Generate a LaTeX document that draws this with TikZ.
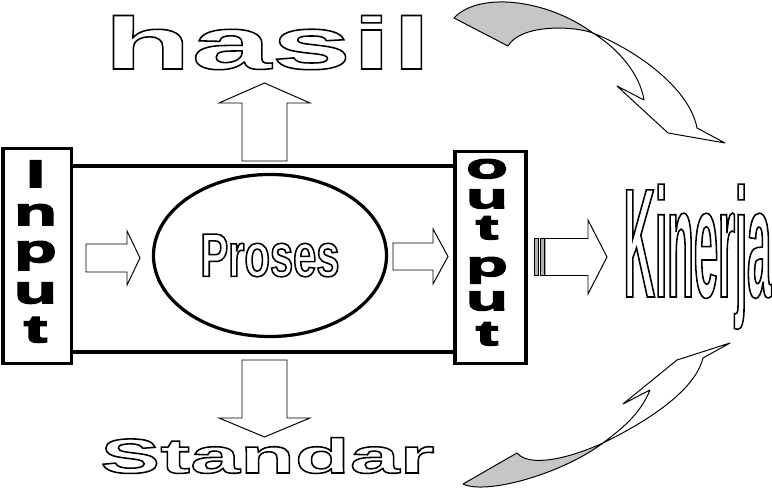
\documentclass[tikz,border=0pt]{standalone}
\usepackage{fontspec}
\usepackage{xcolor}
\usepackage{tikz}
\usetikzlibrary{shapes.geometric, positioning}

\newfontfamily\hasilfont{Liberation Sans Bold}[FakeStretch=1.95]
\newfontfamily\standarfont{Liberation Sans Bold}[FakeStretch=1.84]
\newfontfamily\prosesfont{Liberation Sans Bold}[FakeStretch=0.68]
\newfontfamily\kinerjafont{Liberation Sans Bold}[FakeStretch=0.28]
\newfontfamily\heavysans{Liberation Sans Bold}[FakeStretch=1.85, FakeBold=5]
\newfontfamily\heavywide{Liberation Sans Bold}[FakeStretch=2.0, FakeBold=5]

% hollow (outlined) lettering: stroke the glyphs, no fill
\newcommand{\hollow}[1]{\special{pdf:literal direct 1 Tr 1.1 w}#1\special{pdf:literal direct 0 Tr}}

\begin{document}
\begin{tikzpicture}[x=0.025cm, y=-0.025cm, thick]

\tikzset{
    framebox/.style={rectangle, draw, line width=2.3pt, inner sep=0pt,
                     minimum width=11.25cm, minimum height=4.65cm},
    tallbox/.style={rectangle, draw, fill=white, line width=2.5pt, inner sep=0pt},
    letter/.style={font=\fontsize{27}{27}\selectfont\heavysans, inner sep=0pt, anchor=base},
    outletter/.style={font=\fontsize{24.5}{24.5}\selectfont\heavywide, inner sep=0pt, anchor=base},
    hollowword/.style={inner sep=0pt, anchor=base},
    blockarrow/.style={draw, fill=white, line width=0.7pt, line join=miter},
    stripe/.style={draw, fill=gray!60, line width=0.5pt},
    ribbon/.style={draw, fill=white, line width=0.7pt, line join=round}
}

\useasboundingbox (0,0) rectangle (772,490);

% -- frame and the two side boxes --
\node[framebox] (frame) at (265,259) {};
\node[tallbox, minimum width=1.71cm, minimum height=5.375cm] (inbox) at (37.25,256) {};
\node[tallbox, minimum width=1.775cm, minimum height=5.3cm] (outbox) at (490.5,257.5) {};

\node[letter] (in1) at (35.5,187) {I};
\node[letter] (in2) at (35.5,225) {n};
\node[letter] (in3) at (35.5,262) {p};
\node[letter] (in4) at (35.5,303) {u};
\node[letter] (in5) at (35.5,342) {t};

\node[outletter] (out1) at (487,178) {o};
\node[outletter] (out2) at (487,208) {u};
\node[outletter] (out3) at (487,239) {t};
\node[outletter] (out4) at (487,276) {p};
\node[outletter] (out5) at (487,310) {u};
\node[outletter] (out6) at (487,345) {t};

% -- process --
\node[ellipse, draw, line width=2.3pt, inner sep=0pt, minimum width=5.825cm, minimum height=4.05cm,
      font=\fontsize{43.6}{43.6}\selectfont\prosesfont] (proses) at (270,255.5) {\hollow{Proses}};

% -- block arrows --
\draw[blockarrow] (86,244) -- (127,244) -- (127,231) -- (140,258) -- (127,285) -- (127,272) -- (86,272) -- cycle;
\draw[blockarrow] (393,243) -- (433,243) -- (433,229) -- (448,256.5) -- (433,284) -- (433,270) -- (393,270) -- cycle;
\draw[blockarrow] (545,238.5) -- (588,238.5) -- (588,220) -- (607,257) -- (588,294) -- (588,275.5) -- (545,275.5) -- cycle;
\draw[stripe] (534,238.5) rectangle (538,275.5);
\draw[stripe] (540,238.5) rectangle (544,275.5);

\draw[blockarrow] (242,161) -- (242,103) -- (219,103) -- (264.5,83) -- (310,103) -- (287,103) -- (287,161) -- cycle;
\draw[blockarrow] (242,360) -- (242,418) -- (219,418) -- (264.5,437) -- (310,418) -- (287,418) -- (287,360) -- cycle;

% -- outlined words --
\node[hollowword, font=\fontsize{52.5}{52.5}\selectfont\hasilfont] (hasil) at (267.5,69) {\hollow{hasil}};
\node[hollowword, font=\fontsize{34.7}{34.7}\selectfont\standarfont] (standar) at (267.5,473) {\hollow{Standar}};
\node[hollowword, font=\fontsize{110.7}{110.7}\selectfont\kinerjafont] (kinerja) at (697.5,297) {\hollow{Kinerja}};

% -- curved ribbon arrows --
\filldraw[ribbon, fill=gray!45] (454,18) .. controls (478,-8) and (545,-2) .. (593,33)
    .. controls (570,25) and (520,25) .. (508,46) -- cycle;
\filldraw[ribbon] (593,33) .. controls (640,52) and (690,90) .. (697,128) -- (725,143) -- (668,133)
    -- (617,86) -- (644,100) .. controls (640,75) and (620,50) .. cycle;

\filldraw[ribbon, fill=gray!45] (463,484) .. controls (485,495) and (560,475) .. (603,443)
    .. controls (570,458) and (530,468) .. (517,453) -- cycle;
\filldraw[ribbon] (603,443) .. controls (650,420) and (695,390) .. (703,358) -- (730,343) -- (677,360)
    -- (623,404) -- (650,390) .. controls (640,415) and (620,430) .. cycle;

\end{tikzpicture}
\end{document}
